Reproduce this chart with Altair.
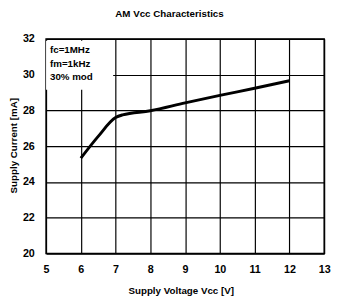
import altair as alt
import pandas as pd

vcc = [6, 6.5, 7, 7.2, 8, 9, 10, 11, 12]
current = [25.33, 26.55, 27.6, 27.75, 27.98, 28.42, 28.84, 29.24, 29.66]
notes = ["fc=1MHz", "fm=1kHz", "30% mod"]
x_ticks = [5, 6, 7, 8, 9, 10, 11, 12, 13]
y_ticks = [20, 22, 24, 26, 28, 30, 32]

FONT = "Liberation Sans"

df = pd.DataFrame({"vcc": vcc, "current": current})

xs = alt.Scale(domain=[5, 13], nice=False, zero=False)
ys = alt.Scale(domain=[20, 32], nice=False, zero=False)

x_axis = alt.Axis(values=x_ticks, title="Supply Voltage Vcc [V]", grid=True,
                  gridColor="black", gridWidth=1.2, gridOpacity=1, domain=False,
                  ticks=False, labelPadding=10, labelFontSize=11, labelFontWeight="bold",
                  labelOverlap=False, labelFlush=False,
                  labelFont=FONT, titleFont=FONT, titleFontSize=10, titleFontWeight="bold",
                  titleY=38, titleX=138, titleBaseline="middle", titleAlign="center",
                  labelColor="black", titleColor="black")
y_axis = alt.Axis(values=y_ticks, title="Supply Current [mA]", grid=True,
                  gridColor="black", gridWidth=1.2, gridOpacity=1, domain=False,
                  ticks=False, labelPadding=12, labelFontSize=11, labelFontWeight="bold",
                  labelOverlap=False, labelFlush=False,
                  labelFont=FONT, titleFont=FONT, titleFontSize=10, titleFontWeight="bold",
                  titleX=-33, titleY=109, titleAlign="center", titleBaseline="middle",
                  titleAngle=270, labelColor="black", titleColor="black")

box = alt.Chart(pd.DataFrame({"x": [5], "x2": [6.93], "y": [29.15], "y2": [31.9]})).mark_rect(
    color="white").encode(x=alt.X("x:Q", scale=xs, axis=x_axis, title="Supply Voltage Vcc [V]"),
                          x2="x2",
                          y=alt.Y("y:Q", scale=ys, axis=y_axis, title="Supply Current [mA]"),
                          y2="y2")

line = alt.Chart(df).mark_line(color="black", strokeWidth=3, interpolate="monotone").encode(
    x=alt.X("vcc:Q", scale=xs, axis=x_axis, title="Supply Voltage Vcc [V]"),
    y=alt.Y("current:Q", scale=ys, axis=y_axis, title="Supply Current [mA]"),
)

ndf = pd.DataFrame({"t": notes, "y": [31.35, 30.6, 29.85]})
text = alt.Chart(ndf).mark_text(align="left", baseline="middle", font=FONT, fontSize=10,
                                fontWeight="bold", color="black", dx=4).encode(
    x=alt.value(0), y=alt.Y("y:Q", scale=ys, axis=y_axis, title="Supply Current [mA]"),
    text="t:N")

chart = alt.layer(box, line, text).properties(
    width=285, height=220,
    title=alt.TitleParams("AM Vcc Characteristics", font=FONT, fontSize=10, fontWeight="bold",
                          color="black", anchor="middle", offset=14, dx=-16),
    autosize=alt.AutoSizeParams(type="none"),
    padding={"left": 39, "top": 28, "right": 7, "bottom": 46},
).configure_view(stroke="black", strokeWidth=1.5)

chart.save("out.html", embed_options={"renderer": "svg", "actions": False})
